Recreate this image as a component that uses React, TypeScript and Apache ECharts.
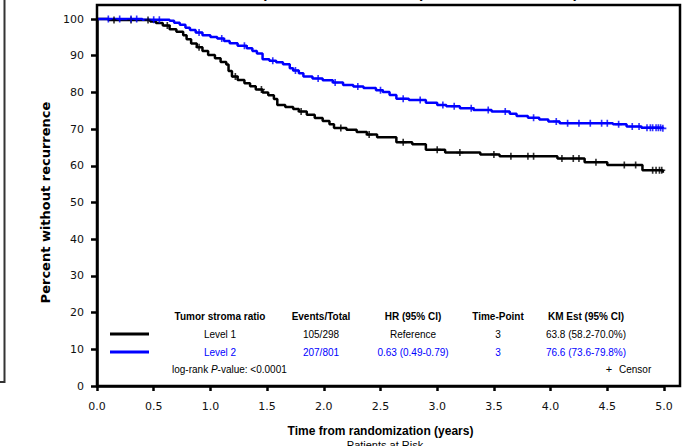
import React, { useEffect, useRef } from "react";
import * as echarts from "echarts";

// ---- Data ----
const xTicks = [0, 0.5, 1, 1.5, 2, 2.5, 3, 3.5, 4, 4.5, 5];

const level1Times = [0, 0.10, 0.47, 0.52, 0.58, 0.64, 0.70, 0.76, 0.79, 0.83, 0.88, 0.93, 0.98, 1.04, 1.09, 1.14, 1.16, 1.19, 1.24, 1.30, 1.35, 1.40, 1.46, 1.51, 1.56, 1.59, 1.66, 1.73, 1.78, 1.85, 1.92, 1.99, 2.05, 2.09, 2.20, 2.29, 2.38, 2.47, 2.64, 2.78, 2.90, 3.07, 3.38, 3.55, 4.06, 4.30, 4.50, 4.81, 4.99];
const level1Surv = [100, 99.7, 99.3, 98.9, 98.2, 97.2, 96.5, 95.6, 94.5, 93.3, 92.3, 91.3, 90.2, 89.3, 88.3, 87.6, 85.8, 84.3, 83.4, 82.5, 81.7, 80.8, 80.0, 79.2, 78.2, 76.6, 76.0, 75.5, 74.8, 73.9, 73.0, 72.2, 71.3, 70.3, 69.8, 69.2, 68.5, 67.8, 66.4, 65.9, 64.4, 63.6, 63.1, 62.6, 62.0, 61.0, 60.2, 58.8, 58.1];
const level1Censor = [0.15, 0.3, 0.45, 0.62, 0.9, 1.22, 1.45, 1.8, 2.15, 2.4, 2.7, 3.0, 3.2, 3.5, 3.65, 3.8, 3.85, 4.1, 4.2, 4.25, 4.4, 4.65, 4.75, 4.9, 4.93, 4.96, 4.98];

const level2Times = [0, 0.40, 0.64, 0.68, 0.73, 0.78, 0.82, 0.87, 0.93, 1.00, 1.06, 1.12, 1.17, 1.24, 1.32, 1.37, 1.41, 1.46, 1.52, 1.58, 1.64, 1.70, 1.73, 1.78, 1.82, 1.90, 1.99, 2.08, 2.17, 2.26, 2.35, 2.46, 2.52, 2.58, 2.64, 2.75, 2.90, 3.00, 3.08, 3.20, 3.32, 3.48, 3.64, 3.70, 3.80, 3.90, 3.98, 4.08, 4.55, 4.67, 4.80, 4.99];
const level2Surv = [100, 99.8, 99.5, 99.0, 98.4, 97.6, 97.0, 96.3, 95.6, 95.1, 94.7, 94.0, 93.4, 92.7, 92.0, 91.3, 90.6, 89.0, 88.6, 88.2, 87.7, 86.6, 86.0, 85.2, 84.3, 83.8, 83.3, 82.7, 82.0, 81.6, 81.2, 80.6, 80.1, 79.3, 78.3, 77.9, 77.2, 76.6, 76.2, 75.7, 75.2, 74.8, 74.2, 73.6, 73.1, 72.6, 72.1, 71.6, 71.3, 70.7, 70.4, 70.2];
const level2Censor = [0.1, 0.2, 0.3, 0.35, 0.5, 0.55, 0.9, 1.1, 1.3, 1.55, 1.75, 1.95, 2.1, 2.3, 2.5, 2.7, 2.85, 3.05, 3.15, 3.3, 3.45, 3.6, 3.85, 4.05, 4.15, 4.25, 4.35, 4.45, 4.5, 4.6, 4.72, 4.78, 4.85, 4.88, 4.9, 4.93, 4.95, 4.97, 4.99];

const tableHeaders = ["Tumor stroma ratio", "Events/Total", "HR (95% CI)", "Time-Point", "KM Est (95% CI)"];
const level1Row = ["Level 1", "105/298", "Reference", "3", "63.8 (58.2-70.0%)"];
const level2Row = ["Level 2", "207/801", "0.63 (0.49-0.79)", "3", "76.6 (73.6-79.8%)"];

const BLUE = "#0000ff";
const BLACK = "#000000";
const SANS = "'Liberation Sans', Arial, sans-serif";
const TICKFONT = "'DejaVu Sans', sans-serif";

function stepValue(times: number[], surv: number[], t: number) {
  let v = surv[0];
  for (let i = 0; i < times.length; i++) {
    if (times[i] <= t) v = surv[i];
  }
  return v;
}

const plusSymbol = "path://M-0.7,-3H0.7V-0.7H3V0.7H0.7V3H-0.7V0.7H-3V-0.7H-0.7Z";

export default function App() {
  const ref = useRef<HTMLDivElement>(null);
  useEffect(() => {
    if (!ref.current) return;
    const chart = echarts.init(ref.current, null, { renderer: "svg" });
    const colX = [220, 321, 413, 498, 586];
    const rowText = (row: string[], y: number, color: string) =>
      row.map((t, i) => ({
        type: "text",
        x: colX[i],
        y,
        style: { text: t, fill: color, font: `10px ${SANS}`, align: "center", verticalAlign: "middle" },
      }));
    chart.setOption({
      animation: false,
      backgroundColor: "#ffffff",
      grid: { left: 97, right: 20, top: 19, bottom: 60, containLabel: false },
      xAxis: {
        type: "value",
        min: 0,
        max: 5,
        interval: 0.5,
        name: "Time from randomization (years)",
        nameLocation: "middle",
        nameGap: 39,
        nameTextStyle: { fontFamily: SANS, fontWeight: "bold", fontSize: 12, color: BLACK },
        axisLine: { show: true, lineStyle: { color: BLACK, width: 2.5 } },
        axisTick: { show: true, length: 5, lineStyle: { color: BLACK, width: 2.5 } },
        axisLabel: {
          margin: 15,
          fontFamily: TICKFONT,
          fontSize: 11,
          color: "#111",
          formatter: (v: number) => (xTicks.includes(v) ? v.toFixed(1) : ""),
        },
        splitLine: { show: false },
      },
      yAxis: {
        type: "value",
        min: 0,
        max: 100,
        interval: 10,
        name: "Percent without recurrence",
        nameLocation: "middle",
        nameGap: 41,
        nameTextStyle: { fontFamily: TICKFONT, fontWeight: "bold", fontSize: 13, color: BLACK },
        axisLine: { show: true, lineStyle: { color: BLACK, width: 2.5 } },
        axisTick: { show: true, length: 6, lineStyle: { color: BLACK, width: 2.5 } },
        axisLabel: { margin: 13, fontFamily: TICKFONT, fontSize: 11, color: "#111" },
        splitLine: { show: false },
      },
      series: [
        {
          type: "line",
          name: "Level 1",
          step: "end",
          showSymbol: false,
          clip: false,
          data: level1Times.map((t, i) => [t, level1Surv[i]]),
          lineStyle: { color: BLACK, width: 2.5 },
          itemStyle: { color: BLACK },
          z: 3,
        },
        {
          type: "line",
          name: "Level 2",
          step: "end",
          showSymbol: false,
          clip: false,
          data: level2Times.map((t, i) => [t, level2Surv[i]]),
          lineStyle: { color: BLUE, width: 2.5 },
          itemStyle: { color: BLUE },
          z: 3,
        },
        {
          type: "scatter",
          name: "Level 1 censor",
          symbol: plusSymbol,
          symbolSize: 7,
          clip: false,
          data: level1Censor.map((t) => [t, stepValue(level1Times, level1Surv, t)]),
          itemStyle: { color: BLACK },
          z: 4,
        },
        {
          type: "scatter",
          name: "Level 2 censor",
          symbol: plusSymbol,
          symbolSize: 7,
          clip: false,
          data: level2Censor.map((t) => [t, stepValue(level2Times, level2Surv, t)]),
          itemStyle: { color: BLUE },
          z: 4,
        },
      ],
      graphic: [
        {
          type: "text",
          x: 244,
          y: 0,
          style: {
            text: "Kaplan-Meier Estimates (Intention-to-Treat Set)",
            font: `bold 15px ${SANS}`,
            fill: BLACK,
            align: "left",
            verticalAlign: "bottom",
          },
        },
        {
          type: "rect",
          shape: { x: 97, y: 5, width: 583, height: 381 },
          style: { fill: "none", stroke: BLACK, lineWidth: 2.5 },
          z: 10,
        },
        {
          type: "polyline",
          shape: { points: [[4.5, 0], [4.5, 382], [0, 382]] },
          style: { stroke: "#333", lineWidth: 2, fill: "none" },
        },
        ...tableHeaders.map((t, i) => ({
          type: "text",
          x: colX[i],
          y: 316,
          style: { text: t, fill: BLACK, font: `bold 10px ${SANS}`, align: "center", verticalAlign: "middle" },
        })),
        {
          type: "line",
          shape: { x1: 110, y1: 334, x2: 149, y2: 334 },
          style: { stroke: BLACK, lineWidth: 3 },
        },
        {
          type: "line",
          shape: { x1: 110, y1: 352, x2: 149, y2: 352 },
          style: { stroke: BLUE, lineWidth: 3 },
        },
        ...rowText(level1Row, 334, BLACK),
        ...rowText(level2Row, 352, BLUE),
        {
          type: "text",
          x: 172,
          y: 369,
          style: {
            text: "{a|log-rank }{b|P}{a|-value: <0.0001}",
            verticalAlign: "middle",
            align: "left",
            rich: {
              a: { font: `10px ${SANS}`, fill: BLACK },
              b: { font: `italic 10px ${SANS}`, fill: BLACK },
            },
          },
        },
        {
          type: "text",
          x: 609,
          y: 369,
          style: { text: "+", fill: BLACK, font: `11px ${SANS}`, align: "center", verticalAlign: "middle" },
        },
        {
          type: "text",
          x: 619,
          y: 369,
          style: { text: "Censor", fill: BLACK, font: `10px ${SANS}`, align: "left", verticalAlign: "middle" },
        },
        {
          type: "text",
          x: 385,
          y: 439,
          style: { text: "Patients at Risk", fill: BLACK, font: `11px ${SANS}`, align: "center", verticalAlign: "top" },
        },
      ],
    });
    return () => chart.dispose();
  }, []);
  return <div ref={ref} style={{ position: "fixed", left: 0, top: 0, width: 684, height: 446 }} />;
}
